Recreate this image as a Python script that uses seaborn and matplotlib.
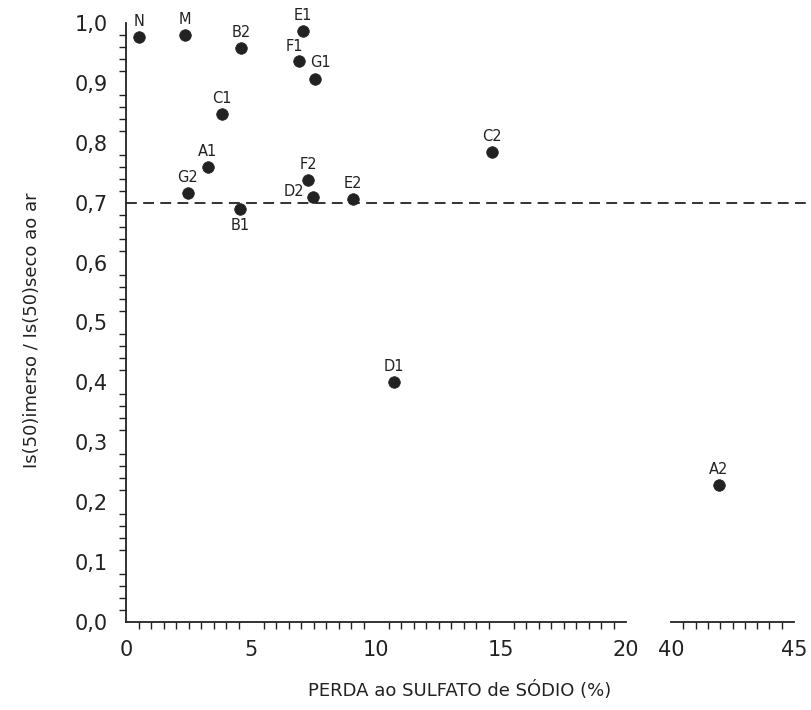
import matplotlib
matplotlib.use("Agg")
import matplotlib.pyplot as plt
import seaborn as sns
import pandas as pd
import numpy as np
from matplotlib.ticker import MultipleLocator, FuncFormatter

sns.set_theme(style="white")
plt.rcParams['font.family'] = ['DejaVu Sans']

labels = ["N", "M", "B2", "E1", "F1", "G1", "C1", "A1", "G2", "F2", "D2", "E2", "B1", "C2", "D1", "A2"]
perda = [0.52, 2.36, 4.6, 7.08, 6.92, 7.56, 3.84, 3.28, 2.48, 7.28, 7.48, 9.08, 4.56, 14.64, 10.72, 41.95]
razao = [0.977, 0.980, 0.958, 0.987, 0.937, 0.907, 0.848, 0.760, 0.716, 0.738, 0.709, 0.707, 0.689, 0.785, 0.401, 0.229]
limite = 0.7
yticks = [0.0, 0.1, 0.2, 0.3, 0.4, 0.5, 0.6, 0.7, 0.8, 0.9, 1.0]
xticks1 = [0, 5, 10, 15, 20]
xticks2 = [40, 45]

df = pd.DataFrame({"label": labels, "x": perda, "y": razao})
d1 = df[df.x <= 20]
d2 = df[df.x > 20]

W, H = 811, 710
fig = plt.figure(figsize=(W / 100, H / 100), dpi=100)
y0, y1 = 622, 23
bottom = (H - y0) / H
height = (y0 - y1) / H
ax1 = fig.add_axes([126 / W, bottom, 500 / W, height])
ax2 = fig.add_axes([671 / W, bottom, 123 / W, height])

ink = "#222222"
for ax, d in ((ax1, d1), (ax2, d2)):
    sns.scatterplot(data=d, x="x", y="y", ax=ax, color=ink, s=70, edgecolor=ink,
                    linewidth=0.5, clip_on=False, legend=False, zorder=5)
    ax.set_ylim(0, 1.0)
    ax.set_xlabel("")
    ax.set_ylabel("")
    ax.set_facecolor("none")
    for sp in ("top", "right"):
        ax.spines[sp].set_visible(False)
    ax.spines["bottom"].set_color(ink)
    ax.spines["bottom"].set_linewidth(1.3)
    ax.xaxis.set_minor_locator(MultipleLocator(0.5))
    ax.tick_params(axis="x", which="major", direction="inout", length=10, width=1.2,
                   color=ink, labelsize=15, labelcolor=ink, pad=8)
    ax.tick_params(axis="x", which="minor", direction="out", length=5, width=1.0,
                   color=ink, bottom=True)

ax1.set_xlim(0, 20)
ax2.set_xlim(40, 45)
ax1.set_xticks(xticks1)
ax2.set_xticks(xticks2)
ax2.tick_params(axis="x", which="major", direction="out", length=7, pad=6)

ax1.set_yticks(yticks)
ax1.yaxis.set_minor_locator(MultipleLocator(0.02))
ax1.yaxis.set_major_formatter(FuncFormatter(lambda v, p: f"{v:.1f}".replace(".", ",")))
ax1.spines["left"].set_color(ink)
ax1.spines["left"].set_linewidth(1.3)
ax1.tick_params(axis="y", which="major", direction="inout", length=10, width=1.2,
                color=ink, labelsize=15, labelcolor=ink, pad=8)
ax1.tick_params(axis="y", which="minor", direction="out", length=5, width=1.0,
                color=ink, left=True)

ax2.spines["left"].set_visible(False)
ax2.set_yticks([])

# dashed reference line spanning both segments
ax1.axhline(limite, xmin=0, xmax=(806 - 126) / 500, color=ink, linestyle=(0, (6, 3.5)),
            linewidth=1.3, clip_on=False, zorder=3)

# point labels (offsets in points)
offsets = {"D2": (-14, 4), "B1": (0, -12), "F1": (-3, 10), "G1": (4, 12)}
for _, r in df.iterrows():
    ax = ax1 if r.x <= 20 else ax2
    dx, dy = offsets.get(r.label, (0, 11))
    ax.annotate(r.label, (r.x, r.y), xytext=(dx, dy), textcoords="offset points",
                ha="center", va="center", fontsize=10.5, color=ink,
                annotation_clip=False)

fig.text(460 / W, 1 - 690 / H, "PERDA ao SULFATO de SÓDIO (%)", ha="center", va="center",
         fontsize=13, color=ink)
fig.text(32 / W, 1 - 330 / H, "Is(50)imerso / Is(50)seco ao ar", ha="center", va="center",
         rotation=90, fontsize=13, color=ink)

fig.savefig("out.png", dpi=100)
